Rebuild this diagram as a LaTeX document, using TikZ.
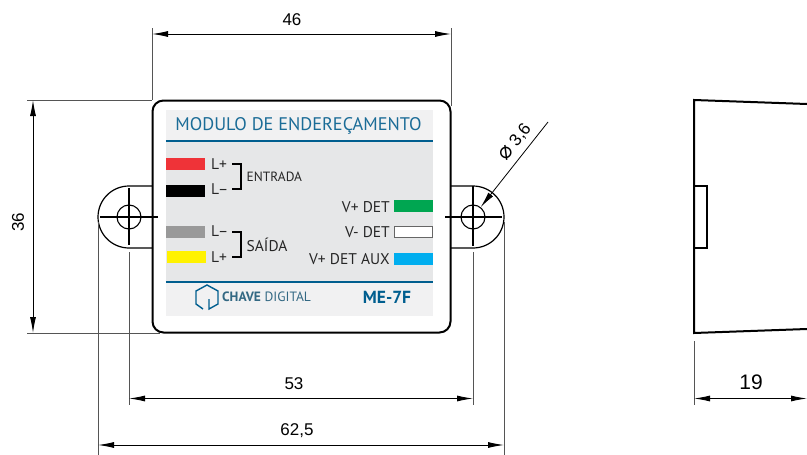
\documentclass[tikz,border=0pt]{standalone}
\usepackage{fontspec}
\setmainfont{Liberation Sans}
\newfontfamily\panelfont{PT Sans}
\newfontfamily\symfont{DejaVu Sans}
\usetikzlibrary{arrows.meta,positioning}
\definecolor{paneltitle}{HTML}{1B6C97}
\definecolor{panelblue}{HTML}{005E8F}
\definecolor{panelgrey}{HTML}{E6E7E8}
\definecolor{panellight}{HTML}{F1F1F2}
\definecolor{extgrey}{HTML}{555555}
\tikzset{
  cotatip/.tip = {Latex[length=16pt,width=6pt]},
  outline/.style = {draw=black, line width=2pt},
  cota/.style = {draw=black, line width=0.9pt, cotatip-cotatip},
  extline/.style = {draw=extgrey, line width=0.9pt},
  axisline/.style = {draw=black, line width=1.3pt},
  dimtext/.style = {font=\fontsize{17}{17}\selectfont, inner sep=0pt},
  wirebar/.style = {minimum width=39pt, minimum height=12pt, inner sep=0pt, outer sep=0pt},
  wiretext/.style = {font=\panelfont\fontsize{15.5}{16}\selectfont, text=black!85, inner sep=0pt},
}
\begin{document}
\begin{tikzpicture}[x=1pt,y=-1pt]
\useasboundingbox (0,0) rectangle (807,455);
% lugs
\draw[line width=1.2pt] (152,186) -- (129,186) arc (-90:-270:31) -- (152,248);
\draw[line width=1.2pt] (451,186) -- (473,186) arc (-90:90:31) -- (451,248);
% body
\node [outline, rounded corners=11pt, fill=white, minimum width=298pt, minimum height=232pt, inner sep=0pt] (Body) at (301.5,216.5) {};
% panel
\node [fill=panelgrey, minimum width=267pt, minimum height=206pt, inner sep=0pt] (Panel) at (299.5,213) {};
\node [fill=panellight, minimum width=267pt, minimum height=31pt, inner sep=0pt] (Header) at (299.5,125.5) {};
\node [fill=panellight, minimum width=267pt, minimum height=34pt, inner sep=0pt] (Footer) at (299.5,299) {};
\draw[panelblue, line width=2pt] (Header.south west) -- (Header.south east);
\draw[panelblue, line width=1.6pt] (Footer.north west) -- (Footer.north east);
\node [font=\panelfont\fontsize{18.25}{19}\selectfont, text=paneltitle, inner sep=0pt] (Title) at (298.5,126) {MODULO DE ENDEREÇAMENTO};
% wires
\node [wirebar, fill={rgb,255:red,239;green,51;blue,56}] (Red) at (185.5,164) {};
\node [wirebar, fill=black] (Black) at (185.5,191) {};
\node [wirebar, fill=black!40] (Grey) at (185.5,232) {};
\node [wirebar, fill={rgb,255:red,255;green,242;blue,0}] (Yellow) at (186.5,257) {};
\node [wirebar, fill={rgb,255:red,0;green,166;blue,81}] (Green) at (413.5,206) {};
\node [wirebar, fill=white, draw=black!60, line width=0.8pt, minimum width=38pt, minimum height=11pt] (White) at (413.5,232) {};
\node [wirebar, fill={rgb,255:red,0;green,174;blue,239}] (Blue) at (413.5,259) {};
\node [wiretext, anchor=west] (LpA) at (211,164) {L+};
\node [wiretext, anchor=west] (LmA) at (211,189) {L–};
\node [wiretext, anchor=west] (LmB) at (211,231.5) {L–};
\node [wiretext, anchor=west] (LpB) at (211,257) {L+};
\node [wiretext, anchor=west, font=\panelfont\fontsize{13.4}{14}\selectfont] (Entrada) at (246.5,177) {ENTRADA};
\node [wiretext, anchor=west] (Saida) at (246.5,245) {SAÍDA};
\node [wiretext, anchor=east] (VpDet) at (390,207) {V+ DET};
\node [wiretext, anchor=east] (VmDet) at (390,232.5) {V- DET};
\node [wiretext, anchor=east] (VpAux) at (390,259) {V+ DET AUX};
\draw[line width=1.5pt] (232,164) -| (241,189) -- (232,189);
\draw[line width=1.5pt] (232,232) -| (241,257) -- (232,257);
% footer marks
\draw[panelblue, line width=1.4pt] (203,309) -- (196,304) -- (196,291) -- (207,285) -- (218,291) -- (218,304) -- (209,309) -- (209,299);
\node [font=\panelfont\fontsize{13.5}{14}\selectfont, text=panelblue!70!black!80, inner sep=0pt, anchor=west] (Chave) at (222,297) {\textbf{CHAVE} DIGITAL};
\node [font=\panelfont\bfseries\fontsize{17.5}{18}\selectfont, text=panelblue, inner sep=0pt] (Model) at (387,297) {ME-7F};
% holes
\foreach \name/\cx in {holeL/129,holeR/473}{
  \node [circle, draw=black, line width=1.1pt, minimum size=24pt, inner sep=0pt] (\name) at (\cx,217) {};
}
\draw[axisline] (100,217) -- (158,217);
\draw[axisline] (129,188) -- (129,245);
\draw[axisline] (445,217) -- (502,217);
\draw[axisline] (473,186) -- (473,246);
% side view
\draw[outline] (807,104) -- (694,100) -- (694,333) -- (807,329);
\draw[line width=1.2pt] (694,186) -- (707,186) -- (707,248) -- (694,248);
% extension lines
\coordinate (e46a) at (152,28);  \coordinate (e46b) at (152,100);
\coordinate (e46c) at (451,28);  \coordinate (e46d) at (451,106);
\coordinate (e36a) at (27,100);  \coordinate (e36b) at (152,100);
\coordinate (e36c) at (27,333);  \coordinate (e36d) at (160,333);
\coordinate (e53a) at (129,252); \coordinate (e53b) at (129,405);
\coordinate (e53c) at (473,252); \coordinate (e53d) at (473,405);
\coordinate (e62a) at (98,222);  \coordinate (e62b) at (98,455);
\coordinate (e62c) at (504,222); \coordinate (e62d) at (504,455);
\coordinate (e19a) at (694,341); \coordinate (e19b) at (694,405);
\foreach \p/\q in {e46a/e46b,e46c/e46d,e36a/e36b,e36c/e36d,e53a/e53b,e53c/e53d,e62a/e62b,e62c/e62d,e19a/e19b}
  \draw[extline] (\p) -- (\q);
% dimensions
\coordinate (d46a) at (152,34);  \coordinate (d46b) at (451,34);
\coordinate (d36a) at (33,100);  \coordinate (d36b) at (33,333);
\coordinate (d53a) at (129,398.5); \coordinate (d53b) at (473,398.5);
\coordinate (d62a) at (98,445);  \coordinate (d62b) at (504,445);
\coordinate (d19a) at (694,398.5); \coordinate (d19b) at (807,398.5);
\foreach \p/\q in {d46a/d46b,d36a/d36b,d53a/d53b,d62a/d62b,d19a/d19b}
  \draw[cota] (\p) -- (\q);
\node [dimtext] (t46) at (292,20) {46};
\node [dimtext, rotate=90] (t36) at (18,222) {36};
\node [dimtext] (t53) at (294,384) {53};
\node [dimtext] (t62) at (297,431) {62,5};
\node [dimtext, font=\fontsize{21}{21}\selectfont] (t19) at (751,382) {19};
% hole leader
\coordinate (lead) at (548,122);
\draw[line width=0.8pt, -cotatip] (lead) -- (holeR.52);
\node [dimtext, rotate=52] (tphi) at (515,142) {{\symfont\fontsize{22}{22}\selectfont\char"2300}\ 3,6};
\end{tikzpicture}
\end{document}
